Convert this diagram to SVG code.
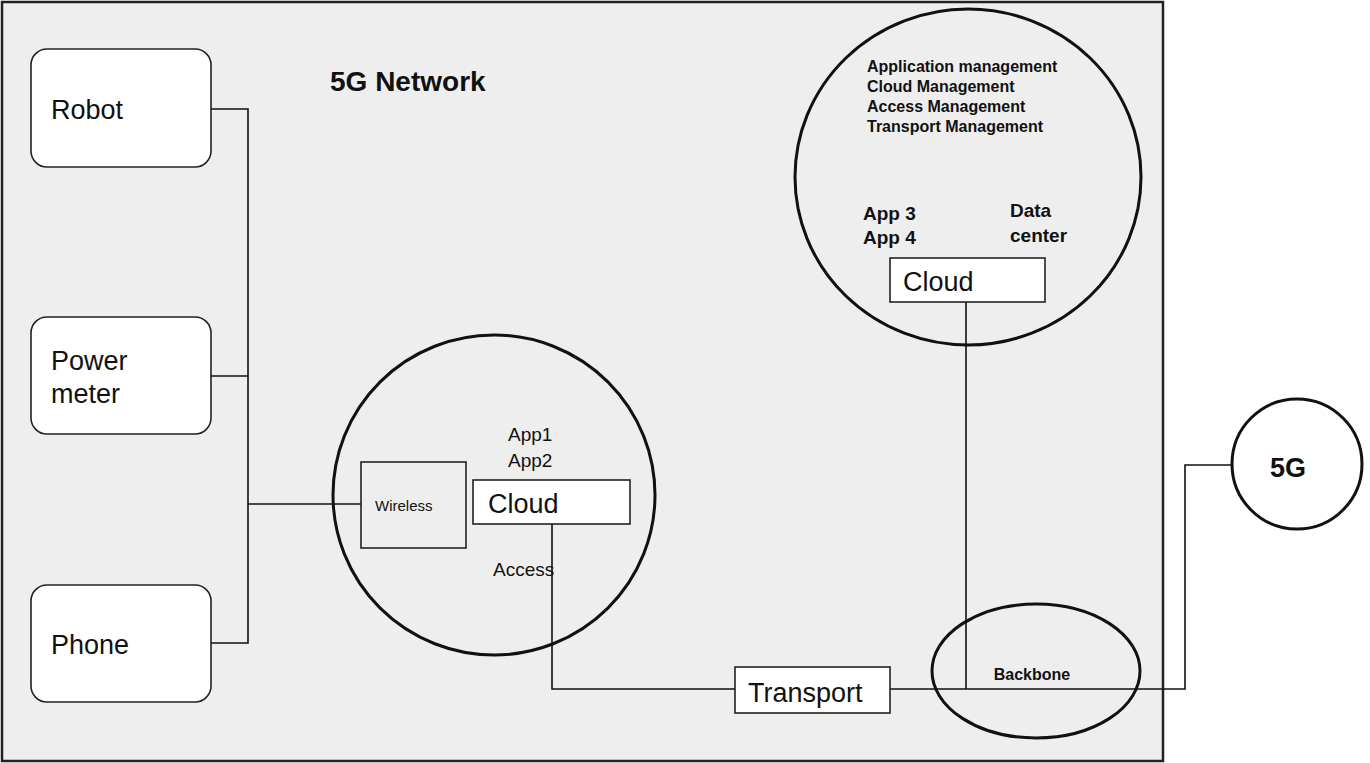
<svg xmlns="http://www.w3.org/2000/svg" width="1370" height="763" viewBox="0 0 1370 763">
<style>
  .txt { font-family: "Liberation Sans", Arial, sans-serif; fill: #111; }
  .b { font-weight: bold; }
  .dev { fill: #ffffff; stroke: #222; stroke-width: 1.6; }
  .box { fill: #ffffff; stroke: #222; stroke-width: 1.6; }
  .plain { fill: none; stroke: #222; stroke-width: 1.6; }
  .ring { fill: none; stroke: #111; stroke-width: 3; }
  .conn { fill: none; stroke: #111; stroke-width: 1.6; }
</style>
<rect width="1370" height="763" fill="#ffffff"/>
<g id="network-area">
  <rect x="2" y="2" width="1161" height="759" fill="#eeeeee" stroke="#222" stroke-width="2.5"/>
  <text class="txt b" x="330" y="91" font-size="28">5G Network</text>
</g>
<g id="connectors">
  <polyline class="conn" points="211,109 248,109 248,643 211,643"/>
  <line class="conn" x1="211" y1="376" x2="248" y2="376"/>
  <line class="conn" x1="248" y1="504" x2="361" y2="504"/>
  <polyline class="conn" points="552,524 552,689 735,689"/>
  <polyline class="conn" points="890,689 1185,689 1185,465 1232,465"/>
  <line class="conn" x1="966" y1="302" x2="966" y2="689"/>
</g>
<g id="access-circle">
  <ellipse class="ring" cx="494" cy="495" rx="161" ry="160"/>
  <text class="txt" x="508" y="441" font-size="19">App1</text>
  <text class="txt" x="508" y="467" font-size="19">App2</text>
  <text class="txt" x="493" y="576" font-size="19">Access</text>
</g>
<g id="datacenter-circle">
  <ellipse class="ring" cx="968" cy="177" rx="173" ry="168"/>
  <text class="txt b" x="867" y="72" font-size="16">Application management</text>
  <text class="txt b" x="867" y="92" font-size="16">Cloud Management</text>
  <text class="txt b" x="867" y="112" font-size="16">Access Management</text>
  <text class="txt b" x="867" y="132" font-size="16">Transport Management</text>
  <text class="txt b" x="863" y="220" font-size="19">App 3</text>
  <text class="txt b" x="863" y="244" font-size="19">App 4</text>
  <text class="txt b" x="1010" y="217" font-size="19">Data</text>
  <text class="txt b" x="1010" y="242" font-size="19">center</text>
</g>
<g id="robot">
  <rect class="dev" x="31" y="49" width="180" height="118" rx="16"/>
  <text class="txt" x="51" y="119" font-size="27">Robot</text>
</g>
<g id="power-meter">
  <rect class="dev" x="31" y="317" width="180" height="117" rx="16"/>
  <text class="txt" x="51" y="370" font-size="27">Power</text>
  <text class="txt" x="51" y="403" font-size="27">meter</text>
</g>
<g id="phone">
  <rect class="dev" x="31" y="585" width="180" height="117" rx="16"/>
  <text class="txt" x="51" y="654" font-size="27">Phone</text>
</g>
<g id="wireless">
  <rect class="plain" x="361" y="462" width="105" height="86"/>
  <text class="txt" x="375" y="511" font-size="15">Wireless</text>
</g>
<g id="cloud-access">
  <rect class="box" x="473" y="480" width="157" height="44"/>
  <text class="txt" x="488" y="513" font-size="27">Cloud</text>
</g>
<g id="cloud-datacenter">
  <rect class="box" x="890" y="258" width="155" height="44"/>
  <text class="txt" x="903" y="291" font-size="27">Cloud</text>
</g>
<g id="transport">
  <rect class="box" x="735" y="667" width="155" height="46"/>
  <text class="txt" x="748" y="702" font-size="27">Transport</text>
</g>
<g id="backbone">
  <ellipse class="ring" cx="1036" cy="671" rx="104" ry="67"/>
  <text class="txt b" x="1032" y="680" font-size="16" text-anchor="middle">Backbone</text>
</g>
<g id="fiveg">
  <circle cx="1297" cy="464" r="65" fill="#ffffff" stroke="#111" stroke-width="3"/>
  <text class="txt b" x="1288" y="477" font-size="27" text-anchor="middle">5G</text>
</g>
</svg>
